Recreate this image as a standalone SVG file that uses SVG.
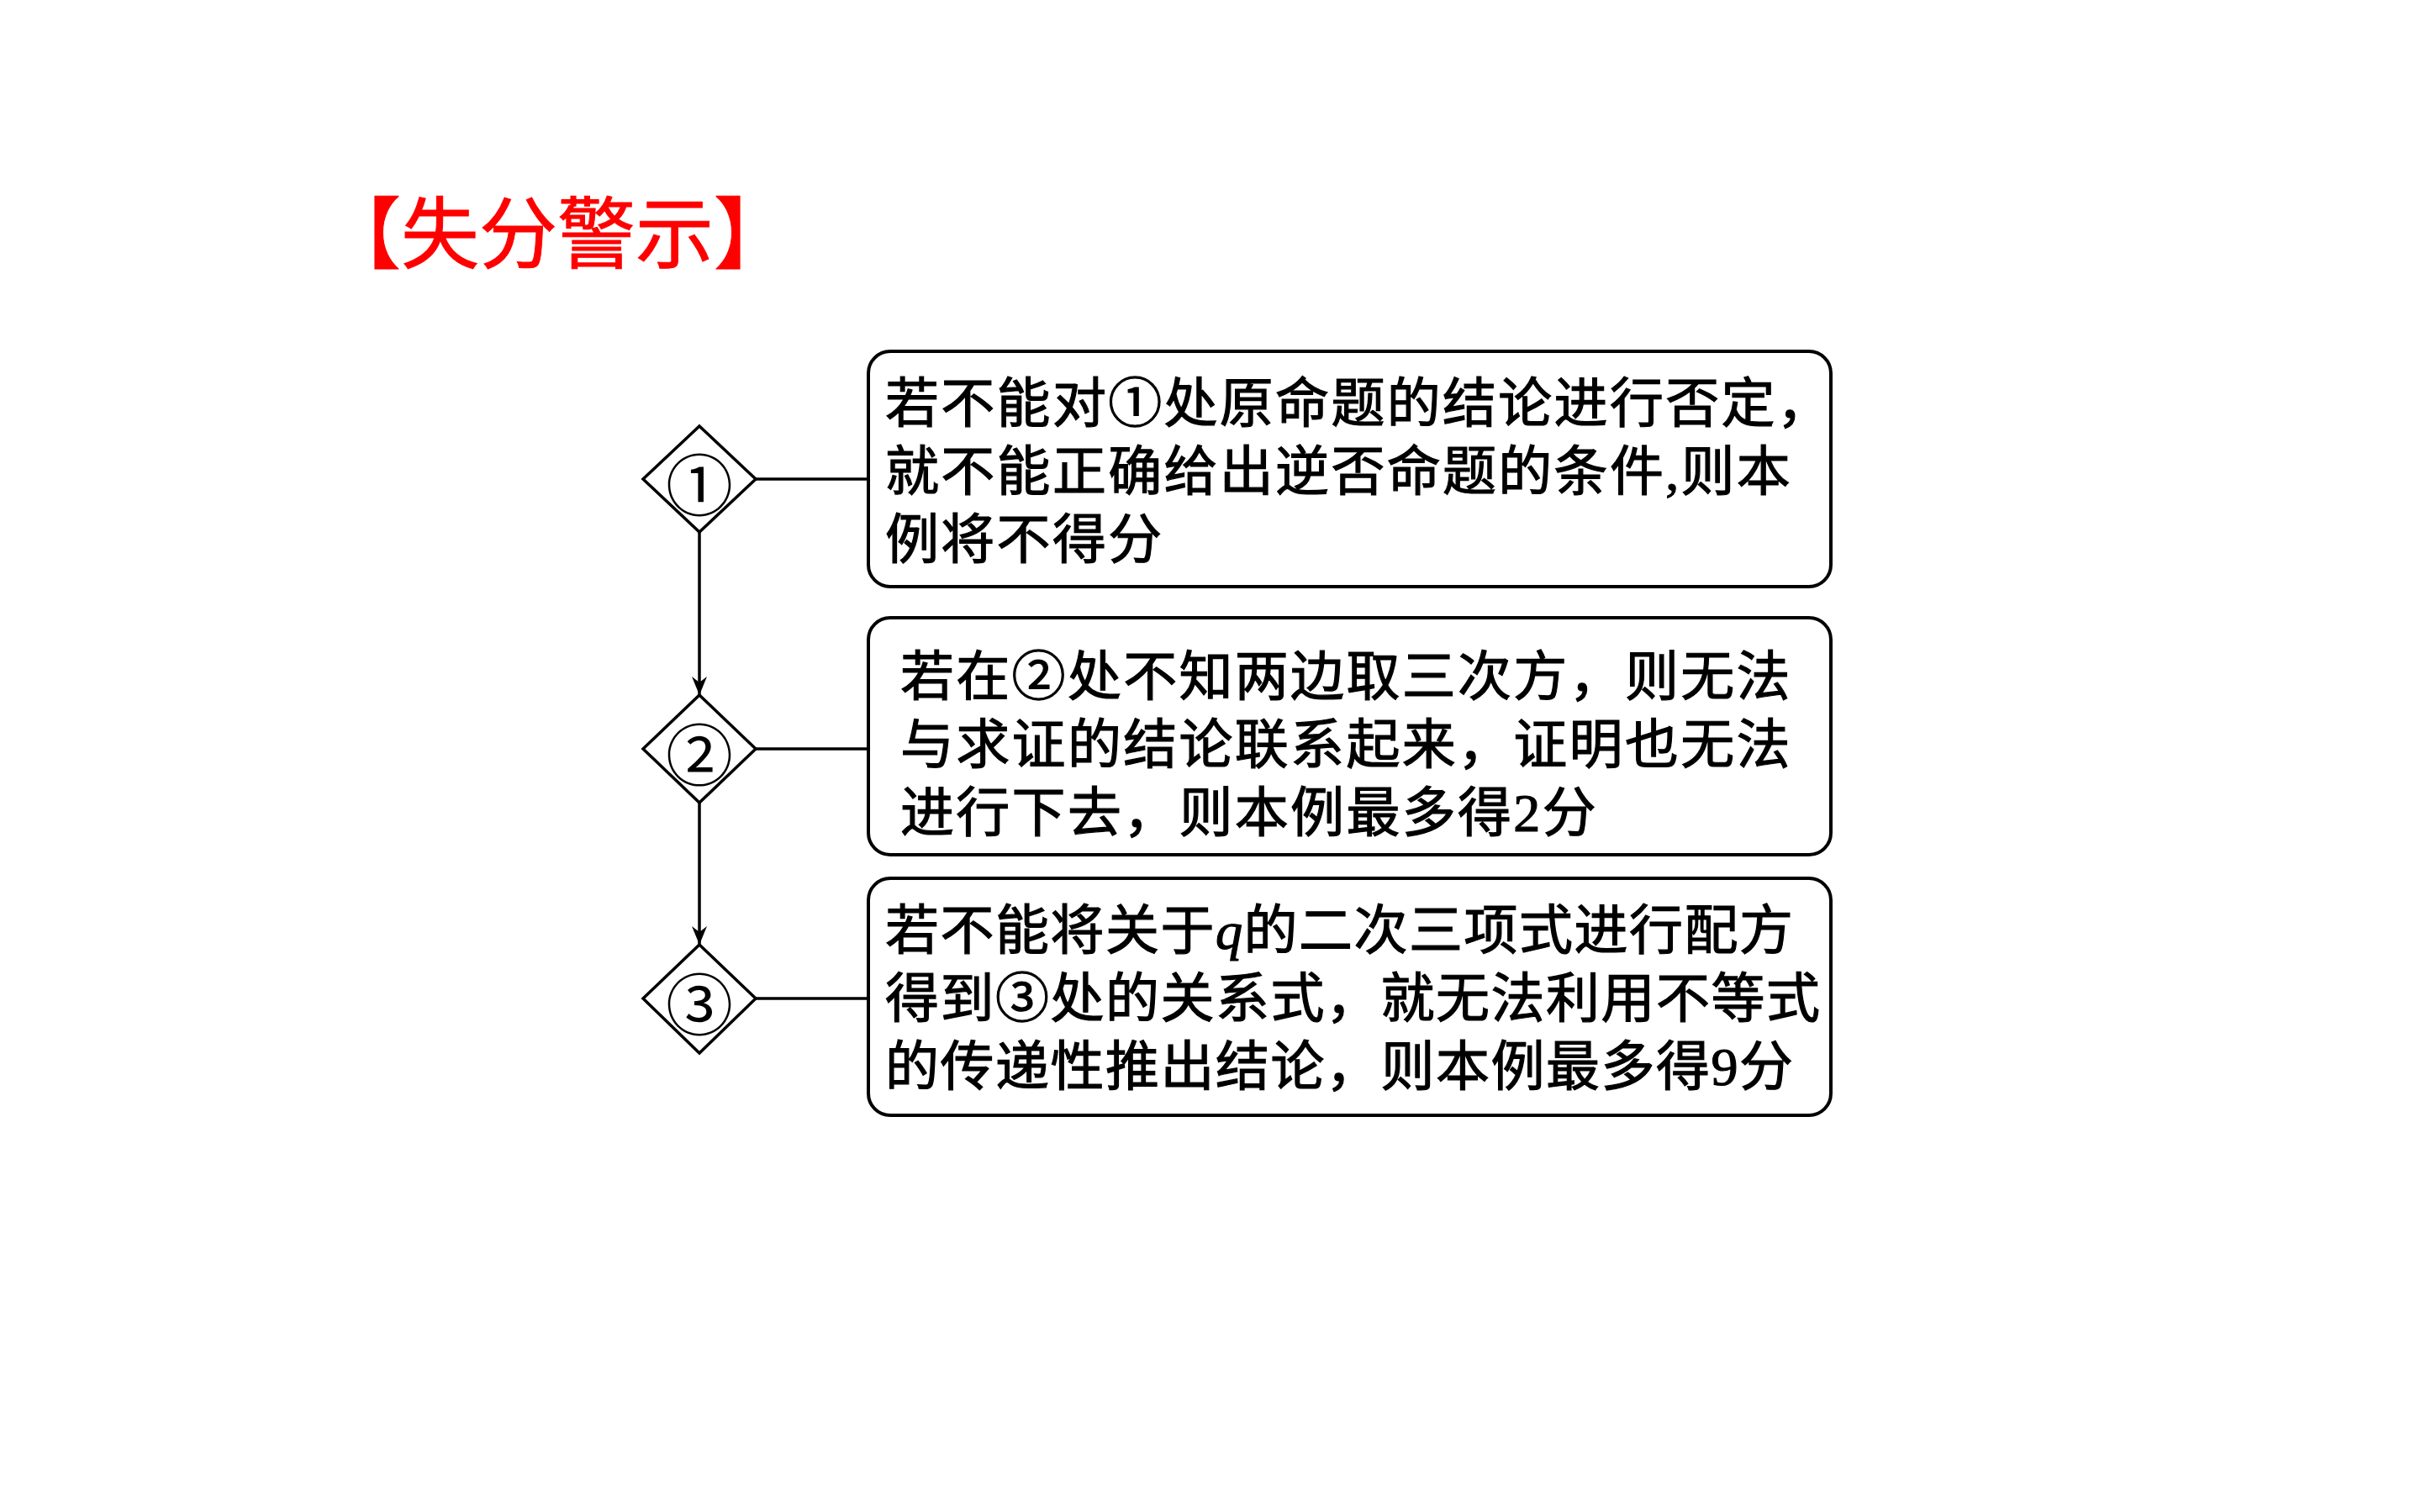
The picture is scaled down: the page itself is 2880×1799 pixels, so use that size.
<svg xmlns="http://www.w3.org/2000/svg" width="2880" height="1799" viewBox="0 0 2880 1799">
<style>
.box{fill:#fff;stroke:#000;stroke-width:4}
.dia{fill:#fff;stroke:#000;stroke-width:3.5}
.ln{fill:none;stroke:#000;stroke-width:3.5}
.t{font-family:"Noto Sans CJK SC","Noto Sans",sans-serif;font-size:64px;fill:#000;stroke:#000;stroke-width:1.2px;letter-spacing:2.3px}
.t3{letter-spacing:1.5px}
.num{font-family:"Liberation Serif","Noto Sans CJK SC",serif}
.q{font-family:"Liberation Serif",serif;font-style:italic}
.cn{font-family:"Noto Sans CJK SC",sans-serif;font-size:80px;fill:#000;text-anchor:middle;dominant-baseline:central}
.title{font-family:"Noto Sans CJK SC",sans-serif;font-size:93px;fill:#ff0000;stroke:#ff0000;stroke-width:1px}
</style>
<defs>
<marker id="arr" viewBox="0 0 22 18" refX="22" refY="9" markerWidth="22" markerHeight="18" markerUnits="userSpaceOnUse" orient="auto">
<path d="M0,0 L22,9 L0,18 L7,9 Z" fill="#000"/>
</marker>
</defs>
<rect width="2880" height="1799" fill="#fff"/>
<text class="title" x="384" y="312">【失分警示】</text>
<g id="connectors">
<line class="ln" x1="832" y1="633" x2="832" y2="827" marker-end="url(#arr)"/>
<line class="ln" x1="832" y1="955" x2="832" y2="1124" marker-end="url(#arr)"/>
<line class="ln" x1="899" y1="570" x2="1033" y2="570"/>
<line class="ln" x1="899" y1="891" x2="1033" y2="891"/>
<line class="ln" x1="899" y1="1188" x2="1033" y2="1188"/>
</g>
<g id="d1">
<polygon class="dia" points="832,507 899,570 832,633 765,570"/>
<text class="cn" x="832" y="572">①</text>
</g>
<g id="d2">
<polygon class="dia" points="832,827 899,891 832,955 765,891"/>
<text class="cn" x="832" y="893">②</text>
</g>
<g id="d3">
<polygon class="dia" points="832,1124 899,1188 832,1253 765,1188"/>
<text class="cn" x="832" y="1190">③</text>
</g>
<g id="b1">
<rect class="box" x="1033" y="418" width="1145" height="280" rx="26"/>
<text class="t" x="1053" y="502">若不能对①处原命题的结论进行否定，</text>
<text class="t" x="1053" y="583">就不能正确给出逆否命题的条件<tspan class="num">,</tspan>则本</text>
<text class="t" x="1053" y="664">例将不得分</text>
</g>
<g id="b2">
<rect class="box" x="1033" y="735" width="1145" height="282" rx="26"/>
<text class="t" x="1071" y="827">若在②处不知两边取三次方，则无法</text>
<text class="t" x="1071" y="908">与求证的结论联系起来，证明也无法</text>
<text class="t" x="1071" y="989">进行下去，则本例最多得<tspan class="num">2</tspan>分</text>
</g>
<g id="b3">
<rect class="box" x="1033" y="1045" width="1145" height="282" rx="26"/>
<text class="t t3" x="1053" y="1129">若不能将关于<tspan class="q">q</tspan>的二次三项式进行配方</text>
<text class="t t3" x="1053" y="1210">得到③处的关系式，就无法利用不等式</text>
<text class="t t3" x="1053" y="1291">的传递性推出结论，则本例最多得<tspan class="num">9</tspan>分</text>
</g>
</svg>
